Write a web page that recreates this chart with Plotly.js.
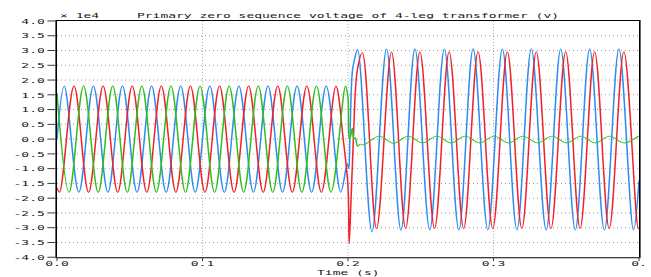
<!DOCTYPE html>
<html>
<head>
<meta charset="utf-8">
<script src="https://cdn.plot.ly/plotly-3.0.1.min.js"></script>
<style>
html,body{margin:0;padding:0;background:#fff;overflow:hidden;}
#wrap{width:651px;height:277px;overflow:hidden;}
#plot{width:651px;height:462px;transform:scaleY(0.59957);transform-origin:0 0;}
</style>
</head>
<body>
<div id="wrap"><div id="plot"></div></div>
<script>
// values in units of 1e4 V, time in s
const blueT = [0, 0.005, 0.015, 0.025, 0.035, 0.045, 0.055, 0.065, 0.075, 0.085, 0.095,
  0.105, 0.115, 0.125, 0.135, 0.145, 0.155, 0.165, 0.175, 0.185, 0.195,
  0.1995, 0.2005, 0.2013, 0.2030, 0.2045, 0.2066, 0.2165, 0.2265, 0.2364, 0.2460,
  0.2562, 0.2662, 0.2762, 0.2860, 0.2961, 0.3061, 0.3161, 0.3260, 0.3362, 0.3462,
  0.3562, 0.3661, 0.3762, 0.3862, 0.3962, 0.4];
const blueV = [0, 1.8, -1.8, 1.8, -1.8, 1.8, -1.8, 1.8, -1.8, 1.8, -1.8,
  1.8, -1.8, 1.8, -1.8, 1.8, -1.8, 1.8, -1.8, 1.8, -1.8,
  -0.83, -1.0, 0.0, 2.3, 2.7, 3.04, -3.14, 3.05, -3.09, 3.06,
  -3.08, 3.05, -3.08, 3.06, -3.08, 3.05, -3.08, 3.06, -3.08, 3.05,
  -3.08, 3.06, -3.08, 3.05, -3.08, -1.4];

const redT = [0, 0.0017, 0.0117, 0.0217, 0.0317, 0.0417, 0.0517, 0.0617, 0.0717, 0.0817, 0.0917,
  0.1017, 0.1117, 0.1217, 0.1317, 0.1417, 0.1517, 0.1617, 0.1717, 0.1817, 0.1917,
  0.1967, 0.2000, 0.2008, 0.2022, 0.2037, 0.2064, 0.2099, 0.2196, 0.2299, 0.2396,
  0.2494, 0.2595, 0.2695, 0.2795, 0.2894, 0.2995, 0.3095, 0.3195, 0.3294, 0.3395,
  0.3496, 0.3595, 0.3695, 0.3795, 0.3896, 0.3995, 0.4];
const redV = [-1.65, -1.8, 1.8, -1.8, 1.8, -1.8, 1.8, -1.8, 1.8, -1.8, 1.8,
  -1.8, 1.8, -1.8, 1.8, -1.8, 1.8, -1.8, 1.8, -1.8, 1.8,
  0.0, -1.6, -3.54, -1.9, 0.0, 2.33, 2.93, -3.03, 2.95, -3.03,
  2.96, -3.03, 2.96, -3.03, 2.96, -3.03, 2.96, -3.03, 2.96, -3.03,
  2.96, -3.03, 2.96, -3.03, 2.96, -3.03, -3.0];

const greenT = [0, 0.0083, 0.0183, 0.0283, 0.0383, 0.0483, 0.0583, 0.0683, 0.0783, 0.0883, 0.0983,
  0.1083, 0.1183, 0.1283, 0.1383, 0.1483, 0.1583, 0.1683, 0.1783, 0.1883, 0.1983,
  0.2000, 0.2008, 0.2018, 0.2030, 0.2040, 0.2050, 0.2066, 0.2085, 0.2105,
  0.2215, 0.2313, 0.2414, 0.2512, 0.2610, 0.2708, 0.2806, 0.2905, 0.3004, 0.3104,
  0.3203, 0.3303, 0.3403, 0.3502, 0.3600, 0.3699, 0.3798, 0.3898, 0.3997];
const greenV = [1.55, -1.8, 1.8, -1.8, 1.8, -1.8, 1.8, -1.8, 1.8, -1.8, 1.8,
  -1.8, 1.8, -1.8, 1.8, -1.8, 1.8, -1.8, 1.8, -1.8, 1.8,
  1.4, 0.0, 0.1, 0.37, 0.0, 0.05, -0.24, -0.17, -0.2,
  0.1, -0.14, 0.1, -0.13, 0.1, -0.13, 0.1, -0.13, 0.1, -0.13,
  0.1, -0.13, 0.1, -0.13, 0.1, -0.13, 0.1, -0.13, 0.1];

const xTickVals = [0, 0.1, 0.2, 0.3, 0.4];
const xTickText = ['0.0', '0.1', '0.2', '0.3', '0.'];
const yTickVals = [-4, -3.5, -3, -2.5, -2, -1.5, -1, -0.5, 0, 0.5, 1, 1.5, 2, 2.5, 3, 3.5, 4];
const yTickText = ['-4.0', '-3.5', '-3.0', '-2.5', '-2.0', '-1.5', '-1.0', '-0.5', '0.0',
  '0.5', '1.0', '1.5', '2.0', '2.5', '3.0', '3.5', '4.0'];

const FONT = 'DejaVu Sans Mono, monospace';
const mk = (x, y, c) => ({x: x, y: y, type: 'scatter', mode: 'lines',
  line: {color: c, width: 1.5, shape: 'spline', smoothing: 1}, hoverinfo: 'skip'});

const data = [
  mk(blueT, blueV, '#2d8cf0'),
  mk(redT, redV, '#f2202a'),
  mk(greenT, greenV, '#2fbf1c')
];

const layout = {
  width: 651, height: 462,
  margin: {l: 57, r: 12, t: 35, b: 33, pad: 0},
  paper_bgcolor: '#fff', plot_bgcolor: '#fff',
  showlegend: false,
  font: {family: FONT, size: 13, color: '#1a1a1a'},
  title: {text: 'Primary zero sequence voltage of 4-leg transformer (v)',
    font: {family: FONT, size: 13, color: '#1a1a1a'},
    x: 0.5, xref: 'paper', xanchor: 'center', y: 1 - 25/462, yref: 'container', yanchor: 'middle'},
  xaxis: {range: [0, 0.4], tickvals: xTickVals, ticktext: xTickText,
    ticks: 'outside', ticklen: 5, tickwidth: 1, tickcolor: '#000', ticklabelstandoff: -7,
    showgrid: true, gridcolor: '#9a9a9a', gridwidth: 1, griddash: '1.7px,3.3px',
    zeroline: false, showline: true, linecolor: '#000', linewidth: 1.6, mirror: true,
    tickfont: {family: FONT, size: 13, color: '#1a1a1a'}, automargin: false},
  yaxis: {range: [-4, 4], tickvals: yTickVals, ticktext: yTickText,
    ticks: 'outside', ticklen: 8, tickwidth: 1.6, tickcolor: '#333',
    showgrid: true, gridcolor: '#9a9a9a', gridwidth: 1.6, griddash: '1px,3px',
    zeroline: false, showline: true, linecolor: '#000', linewidth: 1.6, mirror: true,
    tickfont: {family: FONT, size: 13, color: '#1a1a1a'}, automargin: false},
  annotations: [
    {text: '× 1e4', xref: 'paper', yref: 'paper', x: 0, y: 1, xanchor: 'left', yanchor: 'middle',
      xshift: 1, yshift: 10, showarrow: false, font: {family: FONT, size: 13, color: '#1a1a1a'}},
    {text: 'Time (s)', xref: 'paper', yref: 'paper', x: 0.5, y: 0, xanchor: 'center', yanchor: 'middle',
      yshift: -24, showarrow: false, font: {family: FONT, size: 13, color: '#1a1a1a'}}
  ]
};

Plotly.newPlot('plot', data, layout, {staticPlot: true, displayModeBar: false});
</script>
</body>
</html>
